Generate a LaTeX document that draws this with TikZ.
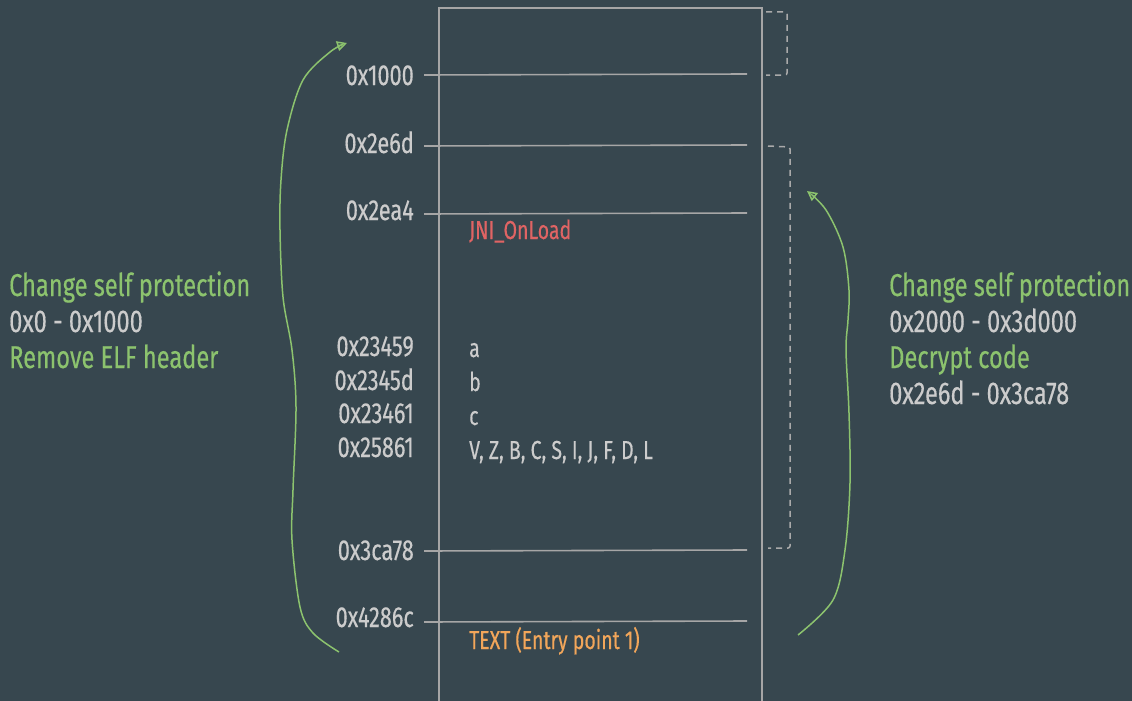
\documentclass[tikz,border=0pt]{standalone}
\usepackage{fontspec}
\setmainfont{Fira Sans}[FakeStretch=0.75,FakeBold=0.4]
\usetikzlibrary{arrows.meta}
\definecolor{bg}{HTML}{37474F}
\definecolor{lgray}{HTML}{CCCCCC}
\definecolor{boxgray}{HTML}{A6A6A6}
\definecolor{dgray}{HTML}{AAAAAA}
\definecolor{lgreen}{HTML}{8CC36E}
\definecolor{lred}{HTML}{E06464}
\definecolor{lorange}{HTML}{F2A65A}
\begin{document}
\begin{tikzpicture}[x=1pt,y=-1pt,
  addr/.style={anchor=base east, inner sep=0pt, text=lgray, font=\fontsize{29}{31}\selectfont},
  inner/.style={anchor=base west, inner sep=0pt, text=lgray, font=\fontsize{26}{28}\selectfont},
  side/.style={anchor=base west, inner sep=0pt, font=\fontsize{31.5}{33}\selectfont},
  boxline/.style={draw=boxgray, line width=1.6pt},
  bracket/.style={draw=dgray, line width=1.5pt, dash pattern=on 6pt off 5pt, rounded corners=2pt},
  curve/.style={draw=lgreen, line width=1.5pt, -{Triangle[open,length=10pt,width=10pt]}}]
\fill[bg] (0,0) rectangle (1132,701);
\useasboundingbox (0,0) rectangle (1132,701);
% memory box
\draw[boxline] (439,706) -- (439,8) -- (762,8) -- (762,706);
\draw[boxline] (424,75) -- (747,74);
\draw[boxline] (424,146) -- (747,145);
\draw[boxline] (424,214) -- (747,213);
\draw[boxline] (424,551) -- (747,550);
\draw[boxline] (424,622) -- (747,621);
% address labels
\node[addr] (a1000) at (414,85) {0x1000};
\node[addr] (a2e6d) at (414,153) {0x2e6d};
\node[addr] (a2ea4) at (414,220) {0x2ea4};
\node[addr] (a23459) at (414,356) {0x23459};
\node[addr] (a2345d) at (414,390) {0x2345d};
\node[addr] (a23461) at (414,423) {0x23461};
\node[addr] (a25861) at (414,457) {0x25861};
\node[addr] (a3ca78) at (414,560) {0x3ca78};
\node[addr] (a4286c) at (414,627) {0x4286c};
% inner labels
\node[inner, text=lred] (jni) at (469,239) {JNI\_OnLoad};
\node[inner] (la) at (469,357) {a};
\node[inner] (lb) at (469,391) {b};
\node[inner] (lc) at (469,425) {c};
\node[inner] (lv) at (469,459) {V, Z, B, C, S, I, J, F, D, L};
\node[inner, text=lorange] (entry) at (469,649) {TEXT (Entry point 1)};
% left text
\node[side, text=lgreen] (l1) at (9,296) {Change self protection};
\node[side, text=lgray] (l2) at (9,332) {0x0 - 0x1000};
\node[side, text=lgreen] (l3) at (9,368) {Remove ELF header};
% right text
\node[side, text=lgreen] (r1) at (889,296) {Change self protection};
\node[side, text=lgray] (r2) at (889,332) {0x2000 - 0x3d000};
\node[side, text=lgreen] (r3) at (889,368) {Decrypt code};
\node[side, text=lgray] (r4) at (889,404) {0x2e6d - 0x3ca78};
% dashed brackets
\draw[bracket] (766,12) -- (787,12) -- (787,75) -- (766,75);
\draw[bracket] (768,146) -- (790,147) -- (790,548) -- (768,548);
% green curves
\draw[curve] plot[smooth, tension=0.55] coordinates {(339,652) (313,633) (300,607) (292,540) (293,490) (296,407) (292,350) (283,297) (280,230) (281,180) (287,130) (303,80) (330,52) (347,43)};
\draw[curve] plot[smooth, tension=0.55] coordinates {(798,635) (833,600) (845,550) (850,483) (849,413) (846,350) (848,320) (849,290) (843,247) (826,210) (807,191)};
\end{tikzpicture}
\end{document}
